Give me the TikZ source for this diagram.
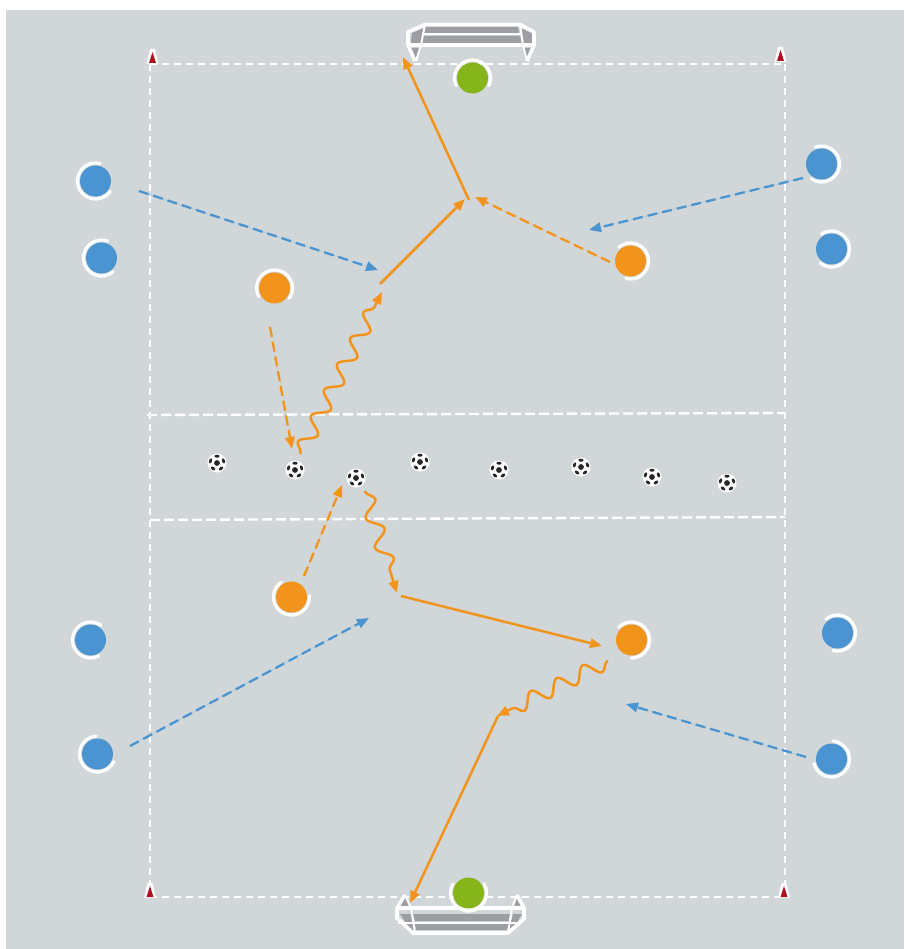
\documentclass[tikz,border=0pt]{standalone}
\usetikzlibrary{arrows.meta,decorations.pathmorphing}
\definecolor{pitch}{HTML}{D1D7D8}
\definecolor{orng}{HTML}{F2941C}
\definecolor{blu}{HTML}{4A94D2}
\definecolor{grn}{HTML}{86B41B}
\definecolor{netgrey}{HTML}{9C9EA3}
\definecolor{conered}{HTML}{B01020}
\tikzset{
  x=1pt,y=1pt,
  disc/.style={circle,inner sep=0pt,minimum size=31pt,fill=#1},
  ring/.style={draw=white,line width=3.2pt,line cap=round},
  field/.style={draw=white,line width=2.4pt,dash pattern=on 7pt off 5pt},
  tip/.style={-{Triangle[length=12pt,width=9.5pt]}},
  solidrun/.style={tip,draw=orng,fill=orng,line width=2.5pt},
  dashrun/.style={tip,draw=orng,fill=orng,line width=2.3pt,dash pattern=on 10pt off 5pt},
  bluerun/.style={tip,draw=blu,fill=blu,line width=2.3pt,dash pattern=on 10pt off 5pt},
  dribble/.style={tip,draw=orng,line width=2.5pt,line join=round,decorate,
    decoration={snake,amplitude=7.5pt,segment length=#1,pre length=1pt,post length=11pt}},
  goalline/.style={draw=white,line width=3.6pt,line join=round},
  goalthin/.style={draw=white,line width=2pt},
  net/.style={fill=netgrey,draw=none},
  ballnode/.style={circle,inner sep=0pt,minimum size=19pt,fill=white},
  patch/.style={fill=black!85,draw=none},
}
\newcommand{\player}[7]{% name,x,y,colour,start,radius,end
  \node[disc=#4] (#1) at (#2+0.5,-#3) {};
  \draw[ring] (#1.center) ++(#5:#6pt) arc[start angle=#5,end angle=#7,radius=#6pt];
}
\newcommand{\ball}[3]{%
  \node[ballnode] (#1) at (#2,-#3) {};
  \fill[patch] (#1.center) circle (2.9pt);
  \foreach \a in {90,162,234,306,18}{
    \fill[patch,rotate around={\a:(#1.center)}] (#1.center) ++(6.8,0) ellipse (1.5 and 2.6);
  }
}
\newcommand{\cone}[3]{%
  \node[inner sep=0pt,minimum size=0pt] (#1) at (#2,-#3) {};
  \fill[white] (#1.center) ++(-6,-7) -- ++(12,0) -- ++(-3.5,15) -- ++(-5,0) -- cycle;
  \fill[conered] (#1.center) ++(-3.5,-6) -- ++(7,0) -- ++(-3.5,11) -- cycle;
}
\begin{document}
\begin{tikzpicture}
\useasboundingbox (0,-949) rectangle (904,0);
\fill[white] (0,-949) rectangle (904,0);
\fill[pitch] (6,-949) rectangle (904,-10);

% field
\coordinate (tl) at (150,-64); \coordinate (tr) at (785,-64);
\coordinate (bl) at (150,-897); \coordinate (br) at (785,-897);
\draw[field] (tl) -- (tr);
\draw[field] (tl) -- (bl);
\draw[field] (tr) -- (br);
\draw[field] (bl) -- (br);
\coordinate (m1l) at (147,-415); \coordinate (m1r) at (785,-413);
\coordinate (m2l) at (150,-520); \coordinate (m2r) at (785,-517);
\draw[field,dash pattern=on 10pt off 4pt] (m1l) -- (m1r);
\draw[field,dash pattern=on 10pt off 4pt] (m2l) -- (m2r);

% cones
\cone{c1}{152.5}{57}
\cone{c2}{780.5}{55}
\cone{c3}{150}{891}
\cone{c4}{784}{891}

% top goal
\fill[net] (425,-27) -- (518,-27) -- (519,-33) -- (424,-33) -- cycle;
\fill[net] (423,-36) -- (520,-36) -- (522,-43) -- (421,-43) -- cycle;
\fill[net] (412,-33) -- (424,-28) -- (422,-43) -- (411,-43) -- cycle;
\fill[net] (520,-28) -- (532,-33) -- (532,-43) -- (523,-43) -- cycle;
\fill[net] (410,-48) -- (420,-48) -- (416,-60) -- cycle;
\fill[net] (523,-48) -- (533,-48) -- (527,-60) -- cycle;
\draw[goalline] (415,-61) -- (408,-45) -- (408,-32) -- (425,-24.5) -- (520,-24.5) -- (534,-32) -- (534,-45) -- (527,-61);
\draw[goalline] (408,-45) -- (534,-45);
\draw[goalthin] (425,-24.5) -- (421,-45) -- (416,-61);
\draw[goalthin] (520,-24.5) -- (523,-45) -- (527,-61);
\draw[goalthin] (423,-34.5) -- (520,-34.5);

% bottom goal
\fill[net] (413,-914) -- (510,-914) -- (509,-921) -- (415,-921) -- cycle;
\fill[net] (415,-924) -- (509,-924) -- (507,-930) -- (416,-930) -- cycle;
\fill[net] (400,-914) -- (411,-914) -- (414,-930) -- (411,-930) -- cycle;
\fill[net] (513,-914) -- (522,-914) -- (512,-930) -- (509,-930) -- cycle;
\fill[net] (405,-897) -- (399,-907) -- (410,-907) -- cycle;
\fill[net] (517,-897) -- (514,-907) -- (522,-907) -- cycle;
\draw[goalline] (405,-895) -- (397,-908) -- (397,-918) -- (413,-933) -- (508,-933) -- (524,-919) -- (524,-908) -- (517,-895);
\draw[goalline] (397,-908) -- (524,-908);
\draw[goalthin] (405,-895) -- (411,-908) -- (415,-933);
\draw[goalthin] (517,-895) -- (512,-908) -- (508,-933);
\draw[goalthin] (398,-922.5) -- (522,-922.5);

% balls
\ball{s1}{217}{463}
\ball{s2}{295}{470}
\ball{s3}{356}{478}
\ball{s4}{420}{462}
\ball{s5}{499}{470}
\ball{s6}{581}{467}
\ball{s7}{652}{477}
\ball{s8}{727}{483}

% players
\player{b1}{95}{181}{blu}{75}{18}{325}
\player{b2}{101}{258}{blu}{70}{18}{310}
\player{b3}{821}{164}{blu}{235}{18}{470}
\player{b4}{831}{249}{blu}{230}{18}{485}
\player{b5}{90}{640}{blu}{55}{18}{298}
\player{b6}{97}{754}{blu}{95}{18}{335}
\player{b7}{837}{633}{blu}{255}{18}{490}
\player{b8}{831}{759}{blu}{195}{18}{445}
\player{o1}{274}{288}{orng}{-35}{18}{210}
\player{o2}{630}{261}{orng}{255}{18}{490}
\player{o3}{291}{597}{orng}{125}{18}{365}
\player{o4}{631}{640}{orng}{270}{18}{495}
\player{g1}{472}{78}{grn}{-25}{18}{205}
\player{g2}{468}{893}{grn}{150}{18}{390}

% waypoints
\coordinate (a1) at (139,-191); \coordinate (a2) at (378,-270);
\coordinate (a3) at (803,-178); \coordinate (a4) at (589,-230);
\coordinate (a5) at (130,-746); \coordinate (a6) at (369,-618);
\coordinate (a7) at (806,-757); \coordinate (a8) at (626,-704);
\coordinate (d1) at (270,-327); \coordinate (d2) at (292,-449);
\coordinate (d3) at (610,-262); \coordinate (d4) at (475,-197);
\coordinate (d5) at (304,-576); \coordinate (d6) at (342,-485);
\coordinate (e1) at (380,-284); \coordinate (e2) at (465,-199);
\coordinate (e3) at (469,-200); \coordinate (e4) at (403,-57);
\coordinate (e5) at (401,-596); \coordinate (e6) at (602,-646);
\coordinate (e7) at (498,-716); \coordinate (e8) at (410,-903);
\coordinate (w1) at (300,-454); \coordinate (w2) at (382,-292);
\coordinate (w3) at (365,-491); \coordinate (w4) at (397,-593);
\coordinate (w5) at (608,-661); \coordinate (w6) at (497,-716);

% runs
\draw[bluerun] (a1) -- (a2);
\draw[bluerun] (a3) -- (a4);
\draw[bluerun] (a5) -- (a6);
\draw[bluerun] (a7) -- (a8);
\draw[dashrun] (d1) -- (d2);
\draw[dashrun] (d3) -- (d4);
\draw[dashrun] (d5) -- (d6);
\draw[solidrun] (e1) -- (e2);
\draw[solidrun] (e3) -- (e4);
\draw[solidrun] (e5) -- (e6);
\draw[solidrun] (e7) -- (e8);
\draw[dribble=29pt] (w1) -- (w2);
\draw[dribble=31pt] (w3) -- (w4);
\draw[dribble=29pt] (w5) -- (w6);
\end{tikzpicture}
\end{document}
